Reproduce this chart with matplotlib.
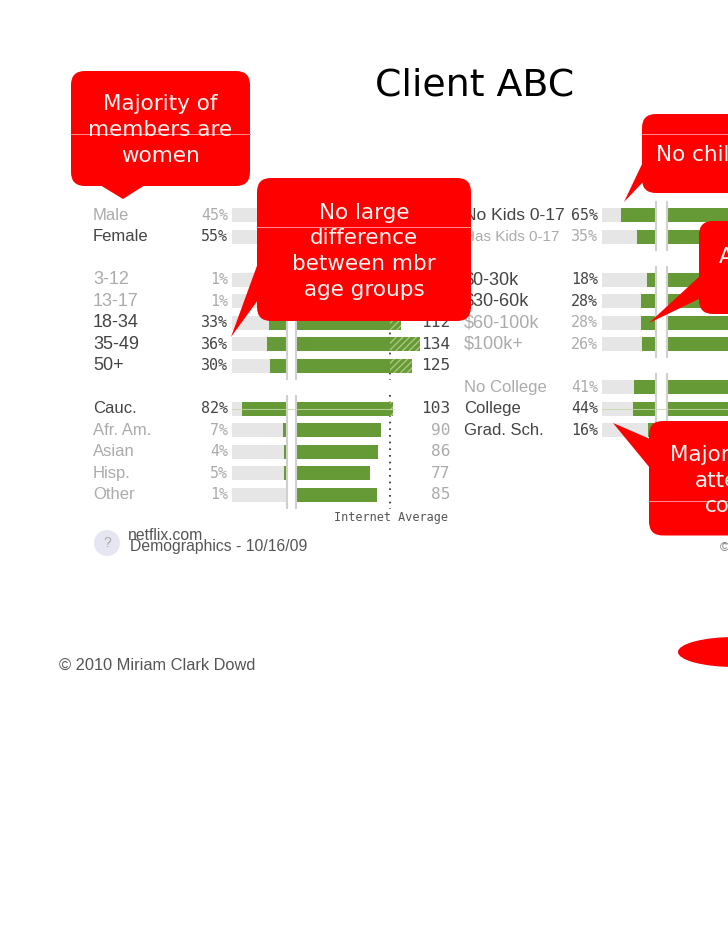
import matplotlib
matplotlib.use("Agg")
import matplotlib.pyplot as plt
from matplotlib.patches import FancyBboxPatch, Polygon, Ellipse, Circle
from matplotlib.transforms import blended_transform_factory as blend

W, H = 728, 943

# ---- data (hidden index values are estimates) ----
left_groups = [["Male", "Female"],
               ["3-12", "13-17", "18-34", "35-49", "50+"],
               ["Cauc.", "Afr. Am.", "Asian", "Hisp.", "Other"]]
left_pct = [[45, 55], [1, 1, 33, 36, 30], [82, 7, 4, 5, 1]]
left_index = [[95, 104], [60, 70, 112, 134, 125], [103, 90, 86, 77, 85]]
left_show_index = [[False, False], [False, False, True, True, True], [True] * 5]
left_bold = [[False, True], [False, False, True, True, True], [True, False, False, False, False]]

right_groups = [["No Kids 0-17", "Has Kids 0-17"],
                ["$0-30k", "$30-60k", "$60-100k", "$100k+"],
                ["No College", "College", "Grad. Sch."]]
right_pct = [[65, 35], [18, 28, 28, 26], [41, 44, 16]]
right_index = [[110, 85], [95, 105, 100, 100], [90, 105, 100]]
right_bold = [[True, False], [True, True, False, False], [False, True, True]]

callouts = [
    ["Majority of", "members are", "women"],
    ["No large", "difference", "between mbr", "age groups"],
    ["No children"],
    ["A"],
    ["Majority have", "attended", "college"],
]

GREEN, GREY, DARK, LIGHT = "#669a36", "#e6e6e6", "#444444", "#ababab"
RED = "#fe0000"
SANS = "Liberation Sans"
MONO = "DejaVu Sans Mono"
LABEL_SIZES = {"No Kids 0-17": 12.6, "Has Kids 0-17": 11}

fig = plt.figure(figsize=(W / 100, H / 100), dpi=100, facecolor="white")

ROW0, PITCH = 215.3, 21.5
ROW_LO, ROW_HI = -1, 14


def px_axes(x0, x1):
    """Axes spanning pixel columns x0..x1, y in row units."""
    top = ROW0 + ROW_LO * PITCH
    bot = ROW0 + ROW_HI * PITCH
    ax = fig.add_axes([x0 / W, 1 - bot / H, (x1 - x0) / W, (bot - top) / H])
    ax.set_ylim(ROW_HI, ROW_LO)
    ax.axis("off")
    return ax


over = fig.add_axes([0, 0, 1, 1], zorder=10)
over.set_xlim(0, W)
over.set_ylim(H, 0)
over.axis("off")
over.patch.set_alpha(0)

IDX_PX = 0.888


def label_size(name):
    if name in LABEL_SIZES:
        return LABEL_SIZES[name]
    return 13 if name[0] in "$0123456789" else 12


def panel(pct_x0, pct_x1, idx_x0, groups, pct, idx, bold, label_x, pct_x, show=None, num_x=None):
    a = px_axes(pct_x0, pct_x1)
    a.set_xlim(100, 0)
    b = px_axes(idx_x0, idx_x0 + 160)
    lo = 100 - 94 / IDX_PX
    b.set_xlim(lo, lo + 160 / IDX_PX)
    tr = blend(over.transData, a.transData)
    row = 0
    for g, (names, ps, vs, bs) in enumerate(zip(groups, pct, idx, bold)):
        first = row
        for i, (n, p, v, strong) in enumerate(zip(names, ps, vs, bs)):
            col = DARK if strong else LIGHT
            a.barh(row, 100, height=0.65, color=GREY, zorder=2)
            a.barh(row, p, height=0.65, color=GREEN, zorder=3)
            b.barh(row, min(v, 100) - lo, left=lo, height=0.65, color=GREEN, zorder=3)
            if v > 100:
                b.barh(row, v - 100, left=100, height=0.65, facecolor=GREEN,
                       edgecolor="#a9c77f", hatch="/////", linewidth=0, zorder=3)
            a.text(label_x, row, n, transform=tr, family=SANS, fontsize=label_size(n), color=col,
                   va="center", ha="left", clip_on=False)
            a.text(pct_x, row, f"{p}%", transform=tr, family=MONO, fontsize=10.8, color=col,
                   va="center", ha="right", clip_on=False)
            if show is not None and show[g][i]:
                a.text(num_x, row, str(v), transform=tr, family=MONO, fontsize=11.6, color=col,
                       va="center", ha="right", clip_on=False)
            row += 1
        last = row - 1
        a.vlines(0, first - 0.65, last + 0.65, color="#d0d0d0", lw=1.5, zorder=4, clip_on=False)
        b.vlines(lo, first - 0.65, last + 0.65, color="#d0d0d0", lw=1.5, zorder=4, clip_on=False)
        b.vlines(100, first - 0.65, last + 0.65, color="#222222", lw=1.2,
                 linestyles=(0, (1, 3)), zorder=1, clip_on=False)
        row += 1
    return a, b


panel(232, 286.5, 296, left_groups, left_pct, left_index, left_bold, 93, 228,
      show=left_show_index, num_x=450)
panel(602, 656.5, 667, right_groups, right_pct, right_index, right_bold, 464, 598)

# thin scan lines seen across the bars
over.plot([232, 394], [409, 409], color="#c6d8a8", lw=0.6, zorder=4)
over.plot([602, 728], [409, 409], color="#c6d8a8", lw=0.6, zorder=4)


# ---- callouts ----
def callout(x0, y0, x1, y1, tail, lines, cx, ys, rule_y=None, size=15.5):
    over.add_patch(FancyBboxPatch((x0 + 14, y0 + 14), x1 - x0 - 28, y1 - y0 - 28,
                                  boxstyle="round,pad=14,rounding_size=14",
                                  fc=RED, ec="none", zorder=5))
    over.add_patch(Polygon(tail, closed=True, fc=RED, ec="none", zorder=5))
    if rule_y is not None:
        over.plot([x0, x1], [rule_y, rule_y], color="#ff8c8c", lw=0.7, zorder=6)
    for s, y in zip(lines, ys):
        over.text(cx, y, s, color="#fff4f0", fontsize=size, family="DejaVu Sans",
                  ha="center", va="center", zorder=7)


callout(71, 71, 250, 186, [(100, 185), (145, 185), (123, 199)], callouts[0],
        160.5, [104, 130, 156], 134)
callout(257, 178, 471, 321, [(258, 263), (258, 300), (231, 337)], callouts[1],
        364, [213, 238, 264, 290], 226.5)
callout(642, 114, 830, 193, [(643, 162), (643, 182), (624, 202)], callouts[2],
        717, [155], 134)
callout(699, 221, 860, 314, [(701, 275), (701, 298), (649, 323)], callouts[3],
        726, [257])
callout(649, 421, 837, 535.5, [(650, 439), (650, 468), (613, 423)], callouts[4],
        743, [455, 481, 506], 501)

over.add_patch(Ellipse((735, 652), 114, 30, fc=RED, ec="none", zorder=5))

# ---- texts ----
over.text(475, 85, "Client ABC", family="DejaVu Sans", fontsize=27.3, color="black",
          ha="center", va="center")
over.text(59, 665, "\u00a9 2010 Miriam Clark Dowd", family=SANS, fontsize=11.8, color="#555555",
          ha="left", va="center")
over.text(448, 518, "Internet Average", family=MONO, fontsize=8.5, color="#555555",
          ha="right", va="center")
over.text(128, 536, "netflix.com", family=SANS, fontsize=11.3, color="#555555", ha="left", va="center")
over.text(130, 547, "Demographics - 10/16/09", family=SANS, fontsize=11.3, color="#555555",
          ha="left", va="center")
over.add_patch(Circle((107, 543), 13, fc="#e6e6f2", ec="none"))
over.text(107, 543, "?", family=SANS, fontsize=10, color="#aaaaaa", ha="center", va="center")
over.text(724, 548, "\u00a9", family=SANS, fontsize=9, color="#777777", ha="center", va="center")

fig.savefig("out.png", dpi=100)
